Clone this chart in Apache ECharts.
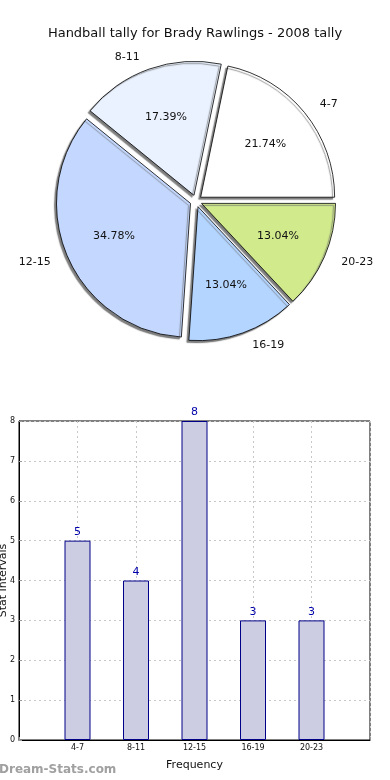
<!DOCTYPE html>
<html>
<head>
<meta charset="utf-8">
<script src="https://cdn.jsdelivr.net/npm/echarts@6/dist/echarts.min.js"></script>
<style>
html,body{margin:0;padding:0;background:#fff;}
#chart{width:390px;height:780px;}
</style>
</head>
<body>
<div id="chart"></div>
<script>
var titleText = 'Handball tally for Brady Rawlings - 2008 tally';
var categories = ['4-7', '8-11', '12-15', '16-19', '20-23'];
var counts = [5, 4, 8, 3, 3];
var pieColors = ['#ffffff', '#eaf2ff', '#c4d8ff', '#b4d5ff', '#d0ea8c'];
var yTicks = [0, 1, 2, 3, 4, 5, 6, 7, 8];
var yAxisTitle = 'Stat Intervals';
var xAxisTitle = 'Frequency';
var watermark = 'Dream-Stats.com';

var FONT = 'DejaVu Sans';
var R = 134;
var CX = 196, CY = 201;
var total = counts.reduce(function (a, b) { return a + b; }, 0);

var pieData = categories.map(function (c, i) {
  return { name: c, value: counts[i], selected: true, itemStyle: { color: pieColors[i] } };
});
var pieLabelData = categories.map(function (c, i) {
  return { name: c, value: counts[i], selected: true };
});
var xCats = [''].concat(categories).concat(['']);
var barData = ['-'].concat(counts).concat(['-']);

var chart = echarts.init(document.getElementById('chart'));
chart.setOption({
  animation: false,
  backgroundColor: '#ffffff',
  title: {
    text: titleText,
    left: 'center',
    top: 22,
    textStyle: { fontFamily: FONT, fontSize: 13, fontWeight: 'normal', color: '#111' }
  },
  graphic: [{
    type: 'text',
    left: -1,
    top: 764,
    style: { text: watermark, fontFamily: FONT, fontSize: 12, fontWeight: 'bold', fill: '#a0a0a0' }
  }],
  grid: {
    left: 19, right: 20, top: 421, bottom: 40,
    containLabel: false,
    outerBoundsMode: 'none',
    show: true, borderColor: '#000', borderWidth: 1, backgroundColor: 'transparent'
  },
  xAxis: {
    type: 'category',
    data: xCats,
    boundaryGap: false,
    name: xAxisTitle,
    nameLocation: 'middle',
    nameGap: 20,
    nameMoveOverlap: false,
    nameTextStyle: { fontFamily: FONT, fontSize: 11, color: '#111' },
    axisLine: { show: true, lineStyle: { color: '#000', width: 1 } },
    axisTick: { show: true, inside: true, length: 3, lineStyle: { color: '#999' } },
    axisLabel: { interval: 0, fontFamily: FONT, fontSize: 8, color: '#111', margin: 4 },
    splitLine: { show: true, lineStyle: { color: '#c8c8c8', type: [2, 3], width: 1 } }
  },
  yAxis: {
    type: 'value',
    min: yTicks[0],
    max: yTicks[yTicks.length - 1],
    interval: 1,
    name: yAxisTitle,
    nameLocation: 'middle',
    nameRotate: 90,
    nameGap: 10,
    nameMoveOverlap: false,
    nameTextStyle: { fontFamily: FONT, fontSize: 11, color: '#111' },
    axisLine: { show: true, lineStyle: { color: '#000', width: 1 } },
    axisTick: { show: true, inside: true, length: 3, lineStyle: { color: '#999' } },
    axisLabel: { fontFamily: FONT, fontSize: 8, color: '#111', margin: 4 },
    splitLine: { show: true, lineStyle: { color: '#c8c8c8', type: [2, 3], width: 1 } }
  },
  series: [
    {
      type: 'pie',
      center: [CX, CY],
      radius: [0, R],
      startAngle: 0,
      clockwise: false,
      selectedMode: 'multiple',
      selectedOffset: 6,
      avoidLabelOverlap: false,
      silent: true,
      itemStyle: {
        borderColor: '#000', borderWidth: 0.8,
        shadowColor: 'rgba(110,110,110,0.9)', shadowBlur: 1, shadowOffsetX: -2, shadowOffsetY: 2
      },
      label: { show: true, position: 'outside', fontFamily: FONT, fontSize: 11, color: '#111', formatter: '{b}' },
      labelLine: { show: false, length: 13, length2: 0 },
      emphasis: { disabled: true },
      data: pieData
    },
    {
      type: 'pie',
      center: [CX, CY],
      radius: [R * 0.2, R],
      startAngle: 0,
      clockwise: false,
      selectedMode: 'multiple',
      selectedOffset: 6,
      avoidLabelOverlap: false,
      silent: true,
      itemStyle: { color: 'rgba(0,0,0,0)', borderWidth: 0 },
      label: { show: true, position: 'inside', fontFamily: FONT, fontSize: 11, color: '#111', formatter: function (p) { return (p.value / total * 100).toFixed(2) + '%'; } },
      labelLine: { show: false },
      emphasis: { disabled: true },
      data: pieLabelData
    },
    {
      type: 'bar',
      data: barData,
      barWidth: 26,
      itemStyle: { color: '#ccccE2', borderColor: '#000088', borderWidth: 1 },
      label: { show: true, position: 'top', distance: 3, fontFamily: FONT, fontSize: 11, color: '#0000aa' },
      z: 1
    }
  ]
});
</script>
</body>
</html>
